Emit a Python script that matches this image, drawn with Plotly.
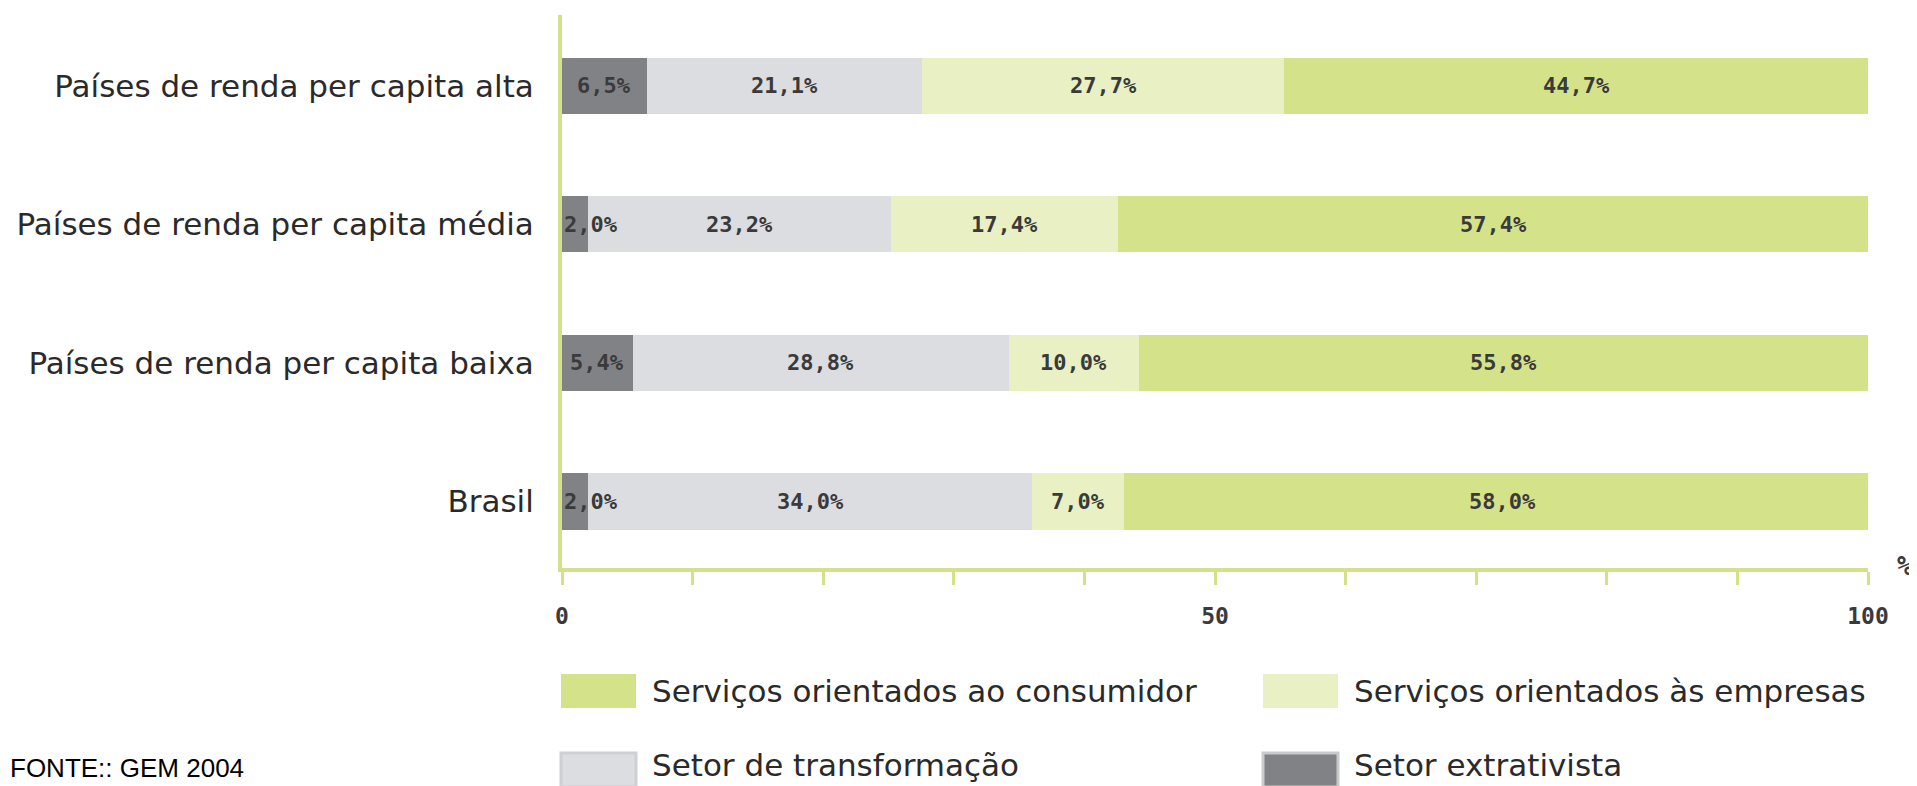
import plotly.graph_objects as go

# ---------------- data ----------------
categories = ["Brasil",
              "Países de renda per capita baixa",
              "Países de renda per capita média",
              "Países de renda per capita alta"]
extrativista = [2.0, 5.4, 2.0, 6.5]
transformacao = [34.0, 28.8, 23.2, 21.1]
empresas = [7.0, 10.0, 17.4, 27.7]
consumidor = [58.0, 55.8, 57.4, 44.7]
series_names = ["Setor extrativista", "Setor de transformação",
                "Serviços orientados às empresas", "Serviços orientados ao consumidor"]
x_tickvals = [0, 50, 100]
x_ticktext = ["0", "50", "100"]

# ---------------- style ----------------
colors = ["#808285", "#dcdde0", "#e8f0c4", "#d4e28a"]
axis_col = "#d4e18a"
OFF = 8                      # default page margin of the html body
SW, SH = 1917, 786           # screen size
W, H = SW - OFF, SH - OFF    # figure size
AX0, AX100, AXY, TOPY = 562, 1868, 568, 15   # screen pixels of plot area
L = AX0 - OFF
R = W - (AX100 - OFF)
T = TOPY - OFF
B = H - (AXY - OFF)
PW, PH = W - L - R, H - T - B
label_font = "DejaVu Sans"
mono = "DejaVu Sans Mono"


def px2x(sx):
    return (sx - OFF - L) / PW


def px2y(sy):
    return (H - B - (sy - OFF)) / PH


series = [extrativista, transformacao, empresas, consumidor]
ypos = list(range(len(categories)))

fig = go.Figure()
for name, vals, col in zip(series_names, series, colors):
    fig.add_trace(go.Bar(
        y=ypos, x=vals, name=name, orientation="h",
        marker=dict(color=col, line=dict(width=0)),
        width=0.405, showlegend=False, hoverinfo="x+name",
    ))

# segment labels
annotations = []
for i in ypos:
    start = 0.0
    for vals in series:
        v = vals[i]
        txt = f"{v:.1f}".replace(".", ",") + "%"
        if v < 3:
            ax, anchor = start, "left"
        else:
            ax, anchor = start + v / 2, "center"
        annotations.append(dict(
            x=ax, y=i, xref="x", yref="y", text=txt, showarrow=False,
            xanchor=anchor, yanchor="middle",
            font=dict(family=mono, size=22, color="#3a3a3a", weight="bold"),
        ))
        start += v

# "%" unit label
annotations.append(dict(
    x=px2x(1915), y=px2y(566), xref="paper", yref="paper", text="%",
    showarrow=False, xanchor="right", yanchor="middle",
    font=dict(family=mono, size=26, color="#3a3a3a", weight="bold"),
))

# legend (manual)
legend_items = [
    (series_names[3], colors[3], None, 561, 674, 691),
    (series_names[2], colors[2], None, 1263, 674, 691),
    (series_names[1], colors[1], "#cfd0d3", 561, 753, 765),
    (series_names[0], colors[0], "#c9cacc", 1263, 753, 765),
]
shapes = []
for name, col, lcol, x0, y0, ty in legend_items:
    shapes.append(dict(
        type="rect", xref="paper", yref="paper",
        x0=px2x(x0), x1=px2x(x0 + 75), y0=px2y(y0 + 34), y1=px2y(y0),
        fillcolor=col,
        line=dict(color=lcol if lcol else col, width=3 if lcol else 0),
    ))
    annotations.append(dict(
        x=px2x(x0 + 89), y=px2y(ty), xref="paper", yref="paper",
        text=name, showarrow=False, xanchor="left", yanchor="middle",
        font=dict(family=label_font, size=31, color="#2a2a2a"),
    ))

# source note
annotations.append(dict(
    x=px2x(OFF), y=px2y(785), xref="paper", yref="paper",
    text="FONTE:: GEM 2004", showarrow=False, xanchor="left", yanchor="bottom",
    font=dict(family="Liberation Sans", size=26, color="#000000"),
))

fig.update_layout(
    width=W, height=H,
    margin=dict(l=L, r=R, t=T, b=B, autoexpand=False),
    paper_bgcolor="white", plot_bgcolor="white",
    barmode="stack", bargap=0,
    annotations=annotations, shapes=shapes,
    showlegend=False,
)
fig.update_xaxes(
    range=[0, 100], showgrid=False, zeroline=False,
    showline=True, linecolor=axis_col, linewidth=4,
    ticks="outside", ticklen=13, tickwidth=3, tickcolor=axis_col,
    tickvals=x_tickvals, ticktext=x_ticktext,
    ticklabelstandoff=11,
    tickfont=dict(family=mono, size=23, color="#3a3a3a", weight="bold"),
    minor=dict(ticks="outside", dtick=10, tick0=0, ticklen=13, tickwidth=3,
               tickcolor=axis_col, showgrid=False),
)
fig.update_yaxes(
    range=[-0.48, 3.51], showgrid=False, zeroline=False,
    showline=True, linecolor=axis_col, linewidth=4,
    tickvals=ypos, ticktext=categories, ticks="",
    ticklabelstandoff=18,
    tickfont=dict(family=label_font, size=31, color="#2a2a2a"),
)

fig.write_html("out.html")
